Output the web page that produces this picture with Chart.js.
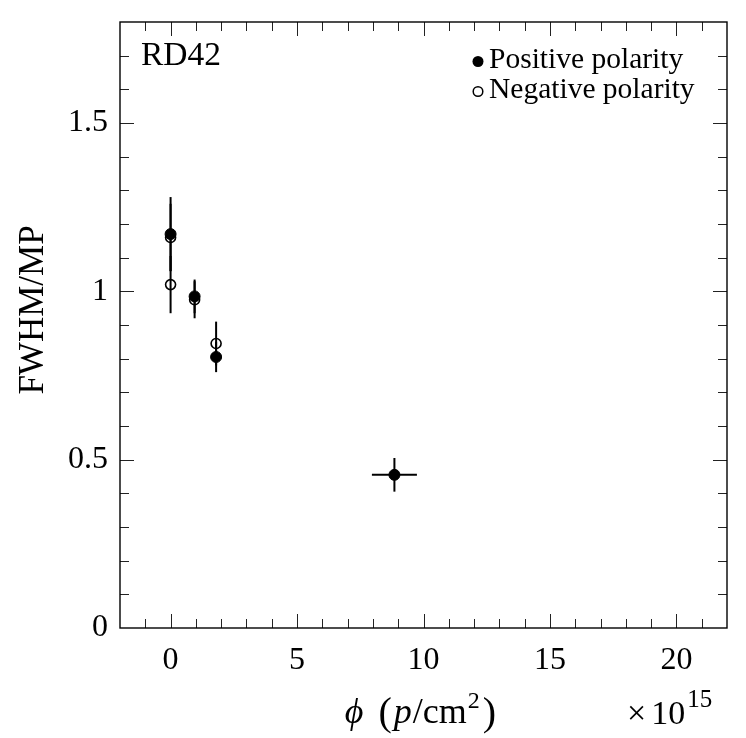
<!DOCTYPE html>
<html><head><meta charset="utf-8">
<script src="https://cdn.jsdelivr.net/npm/chart.js@4/dist/chart.umd.min.js"></script>
<style>html,body{margin:0;padding:0;background:#fff}#wrap{width:746px;height:738px}</style>
</head><body><div id="wrap"><canvas id="c" width="746" height="738"></canvas></div>
<script>
// ---- data ----
const posX    = [0, 0.95, 1.8, 8.85];
const posY    = [1.17, 0.985, 0.805, 0.455];
const posYErr = [0.11, 0.05, 0.045, 0.05];
const posXErr = [0, 0, 0, 0.89];
const negX    = [0, 0, 0.95, 1.8];
const negY    = [1.16, 1.02, 0.975, 0.845];
const negYErr = [0.1, 0.085, 0.055, 0.065];
const negXErr = [0, 0, 0, 0];
const seriesNames = ['Positive polarity', 'Negative polarity'];
const xTickLabels = [0, 5, 10, 15, 20];
const yTickLabels = [0, 0.5, 1, 1.5];
const xRange = [-2, 22];
const yRange = [0, 1.8];

const SERIF = "'Liberation Serif', 'DejaVu Serif', serif";

function toPts(xs, ys){ return xs.map((x,i)=>({x:x, y:ys[i]})); }

const frameTicks = {
  id:'frameTicks',
  beforeDatasetsDraw(chart){
    const {ctx, chartArea:a, scales:{x, y}} = chart;
    ctx.save();
    ctx.strokeStyle='#000';
    // error bars
    ctx.lineWidth=2;
    const drawErr=(xs,ys,xe,ye)=>{
      xs.forEach((xv,i)=>{
        const px=x.getPixelForValue(xv), py=y.getPixelForValue(ys[i]);
        if(ye[i]>0){
          ctx.beginPath();
          ctx.moveTo(px, y.getPixelForValue(ys[i]+ye[i]));
          ctx.lineTo(px, y.getPixelForValue(ys[i]-ye[i]));
          ctx.stroke();
        }
        if(xe[i]>0){
          ctx.beginPath();
          ctx.moveTo(x.getPixelForValue(xv-xe[i]), py);
          ctx.lineTo(x.getPixelForValue(xv+xe[i]), py);
          ctx.stroke();
        }
      });
    };
    drawErr(posX,posY,posXErr,posYErr);
    drawErr(negX,negY,negXErr,negYErr);
    // ticks
    ctx.lineWidth=1;
    ctx.strokeStyle='#222';
    x.ticks.forEach(t=>{
      const v=t.value;
      if(v<=xRange[0]||v>=xRange[1]) return;
      const px=Math.round(x.getPixelForValue(v))+0.5;
      const L = (Math.abs(v%5)<1e-9)?14:9;
      ctx.beginPath();
      ctx.moveTo(px,a.bottom); ctx.lineTo(px,a.bottom-L);
      ctx.moveTo(px,a.top); ctx.lineTo(px,a.top+L);
      ctx.stroke();
    });
    y.ticks.forEach(t=>{
      const v=t.value;
      if(v<=yRange[0]+1e-9||v>=yRange[1]-1e-9) return;
      const py=Math.round(y.getPixelForValue(v))+0.5;
      const r=v*2; const major=Math.abs(r-Math.round(r))<1e-6;
      const L = major?14:9;
      ctx.beginPath();
      ctx.moveTo(a.left,py); ctx.lineTo(a.left+L,py);
      ctx.moveTo(a.right,py); ctx.lineTo(a.right-L,py);
      ctx.stroke();
    });
    // frame
    ctx.lineWidth=1.4;
    ctx.strokeStyle='#000';
    ctx.strokeRect(a.left, a.top, a.right-a.left, a.bottom-a.top);
    ctx.restore();
  },
  afterDraw(chart){
    const {ctx, chartArea:a} = chart;
    ctx.save();
    ctx.fillStyle='#000';
    // RD42
    ctx.font = "33.5px "+SERIF;
    ctx.textBaseline='alphabetic';
    ctx.textAlign='left';
    ctx.fillText('RD42', 141, 65);
    // legend
    ctx.font = "29.5px "+SERIF;
    ctx.fillText(seriesNames[0], 489, 68);
    ctx.fillText(seriesNames[1], 489, 98);
    ctx.beginPath(); ctx.arc(478, 61.5, 5.5, 0, Math.PI*2); ctx.fill();
    ctx.lineWidth=1.5; ctx.strokeStyle='#000';
    ctx.beginPath(); ctx.arc(478, 91.5, 4.8, 0, Math.PI*2); ctx.stroke();
    // y title
    ctx.save();
    ctx.translate(43, (a.top+a.bottom)/2 - 15);
    ctx.rotate(-Math.PI/2);
    ctx.textAlign='center';
    ctx.font = "35px "+SERIF;
    ctx.fillText('FWHM/MP', 0, 0);
    ctx.restore();
    // x title: ϕ (p/cm²)
    const parts = [
      {t:'\u03D5', f:"italic 36px "+SERIF, dy:0, gap:15},
      {t:'(', f:"40px "+SERIF, dy:2, gap:2},
      {t:'p', f:"italic 36px "+SERIF, dy:0, gap:1},
      {t:'/cm', f:"36px "+SERIF, dy:0, gap:1},
      {t:'2', f:"24px "+SERIF, dy:-15, gap:3},
      {t:')', f:"40px "+SERIF, dy:2, gap:0}
    ];
    let w=0;
    parts.forEach(p=>{ctx.font=p.f; p.w=ctx.measureText(p.t).width; w+=p.w+p.gap;});
    w-=parts[parts.length-1].gap;
    let cx=(a.left+a.right)/2 - 3 - w/2;
    const base=723;
    parts.forEach(p=>{ctx.font=p.f; ctx.fillText(p.t, cx, base+p.dy); cx+=p.w+p.gap;});
    // ×10^15
    ctx.font = "34px "+SERIF;
    ctx.fillText('\u00D7', 627, 724);
    const wx = ctx.measureText('\u00D7').width;
    ctx.fillText('10', 627+wx+5, 724);
    const w10 = ctx.measureText('10').width;
    ctx.font = "25px "+SERIF;
    ctx.fillText('15', 627+wx+5+w10+2, 707);
    ctx.restore();
  }
};

new Chart(document.getElementById('c'), {
  type:'scatter',
  data:{
    datasets:[
      {label:seriesNames[0], data:toPts(posX,posY), pointRadius:5.5, pointHoverRadius:5.5,
       backgroundColor:'#000', borderColor:'#000', borderWidth:1, showLine:false},
      {label:seriesNames[1], data:toPts(negX,negY), pointRadius:5, pointHoverRadius:5,
       backgroundColor:'rgba(0,0,0,0)', borderColor:'#000', borderWidth:1.6, showLine:false}
    ]
  },
  options:{
    responsive:false, animation:false, devicePixelRatio:1,
    events:[],
    layout:{padding:{top:22, right:19, left:0, bottom:0}},
    plugins:{legend:{display:false}, tooltip:{enabled:false}},
    scales:{
      x:{type:'linear', min:xRange[0], max:xRange[1],
         afterFit(s){ s.height=110; s.paddingLeft=0; s.paddingRight=0; },
         grid:{display:false, drawTicks:false}, border:{display:false},
         ticks:{stepSize:1, autoSkip:false, maxRotation:0, padding:13, color:'#000',
                font:{family:SERIF, size:32},
                callback:(v)=> xTickLabels.includes(v) ? String(v) : ''}},
      y:{type:'linear', min:yRange[0], max:yRange[1],
         afterFit(s){ s.width=120; s.paddingTop=0; s.paddingBottom=0; },
         grid:{display:false, drawTicks:false}, border:{display:false},
         ticks:{stepSize:0.1, autoSkip:false, padding:12, color:'#000',
                font:{family:SERIF, size:32},
                callback:(v)=>{ const m=yTickLabels.find(l=>Math.abs(l-v)<1e-6); return m===undefined?'':String(m);} }}
    }
  },
  plugins:[frameTicks]
});
</script>
</body></html>
